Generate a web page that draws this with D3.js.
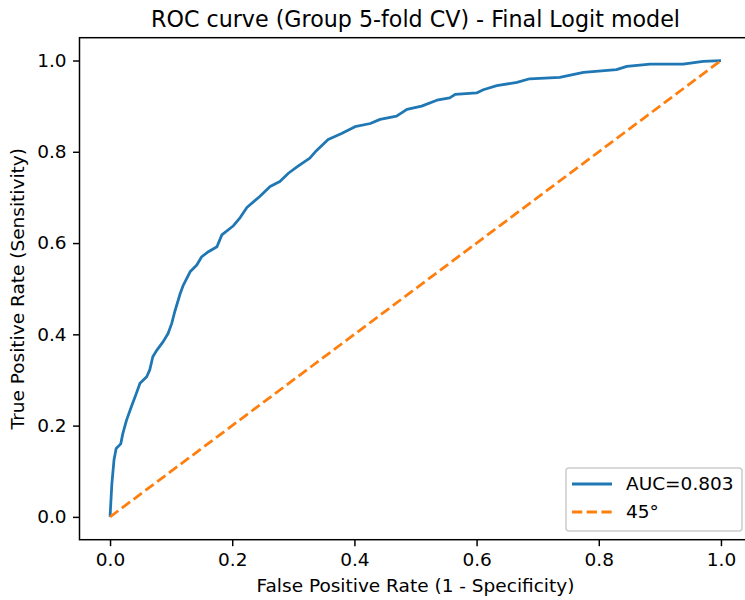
<!DOCTYPE html>
<html>
<head>
<meta charset="utf-8">
<script src="https://cdn.jsdelivr.net/npm/d3@7"></script>
<style>
  body { margin: 0; background: #fff; }
  svg { display: block; font-family: "DejaVu Sans", sans-serif; }
</style>
</head>
<body>
<svg id="chart" width="745" height="600"></svg>
<script>
// ROC curve (false positive rate, true positive rate)
const fpr = [0, 0.003, 0.0065, 0.01, 0.0175, 0.021, 0.027, 0.035, 0.041, 0.049, 0.060, 0.065, 0.070, 0.077, 0.087, 0.095, 0.101, 0.106, 0.115, 0.120, 0.131, 0.142, 0.150, 0.161, 0.175, 0.183, 0.202, 0.213, 0.224, 0.245, 0.262, 0.278, 0.292, 0.306, 0.327, 0.336, 0.357, 0.379, 0.401, 0.426, 0.442, 0.469, 0.486, 0.510, 0.535, 0.556, 0.565, 0.600, 0.611, 0.633, 0.666, 0.687, 0.736, 0.775, 0.829, 0.846, 0.884, 0.938, 0.971, 1.0];
const tpr = [0, 0.073, 0.125, 0.150, 0.160, 0.183, 0.212, 0.242, 0.263, 0.293, 0.307, 0.322, 0.351, 0.366, 0.384, 0.402, 0.424, 0.450, 0.490, 0.508, 0.537, 0.552, 0.570, 0.581, 0.592, 0.618, 0.638, 0.656, 0.678, 0.702, 0.724, 0.735, 0.753, 0.767, 0.786, 0.800, 0.827, 0.840, 0.855, 0.862, 0.871, 0.878, 0.893, 0.900, 0.913, 0.918, 0.926, 0.929, 0.936, 0.945, 0.952, 0.960, 0.963, 0.974, 0.980, 0.987, 0.992, 0.992, 0.998, 1.0];
const diagonal = [0, 1];
const ticks = [0, 0.2, 0.4, 0.6, 0.8, 1.0];
const legendLabels = ['AUC=0.803', '45°'];

const pt = 1.85; // one matplotlib point in px
const margin = { top: 37.7, left: 79.5 };
const width = 672, height = 502;
const blue = '#1f77b4', orange = '#ff7f0e';

const svg = d3.select('#chart');
const x = d3.scaleLinear().domain([-0.05, 1.05]).range([margin.left, margin.left + width]);
const y = d3.scaleLinear().domain([-0.05, 1.05]).range([margin.top + height, margin.top]);

const roc = fpr.map((f, i) => ({ x: f, y: tpr[i] }));
const line = d3.line().x(d => x(d.x)).y(d => y(d.y));

const clip = svg.append('clipPath').attr('id', 'clip')
  .append('rect').attr('x', margin.left).attr('y', margin.top).attr('width', width).attr('height', height);
const plot = svg.append('g').attr('clip-path', 'url(#clip)');

plot.append('path')
  .datum(roc)
  .attr('d', line)
  .attr('fill', 'none')
  .attr('stroke', blue)
  .attr('stroke-width', 1.5 * pt)
  .attr('stroke-linejoin', 'round');

plot.append('path')
  .datum(diagonal.map(v => ({ x: v, y: v })))
  .attr('d', line)
  .attr('fill', 'none')
  .attr('stroke', orange)
  .attr('stroke-width', 1.5 * pt)
  .attr('stroke-dasharray', `${3.7 * 1.5 * pt},${1.6 * 1.5 * pt}`);

// axes
const xAxis = d3.axisBottom(x).tickValues(ticks).tickFormat(d3.format('.1f'))
  .tickSize(3.5 * pt).tickPadding(3.5 * pt);
const yAxis = d3.axisLeft(y).tickValues(ticks).tickFormat(d3.format('.1f'))
  .tickSize(3.5 * pt).tickPadding(3.5 * pt);

const gx = svg.append('g').attr('transform', `translate(0,${margin.top + height})`).call(xAxis);
const gy = svg.append('g').attr('transform', `translate(${margin.left},0)`).call(yAxis);
[gx, gy].forEach(g => {
  g.select('.domain').remove();
  g.selectAll('line').attr('stroke', '#000').attr('stroke-width', 0.8 * pt);
  g.selectAll('text').attr('font-size', 18.5).attr('fill', '#000')
    .attr('font-family', '"DejaVu Sans", sans-serif');
});

svg.append('rect')
  .attr('x', margin.left).attr('y', margin.top)
  .attr('width', width).attr('height', height)
  .attr('fill', 'none').attr('stroke', '#000').attr('stroke-width', 0.8 * pt);

// titles
svg.append('text')
  .attr('x', margin.left + width / 2).attr('y', margin.top - 6 * pt)
  .attr('text-anchor', 'middle').attr('font-size', 22.2)
  .text('ROC curve (Group 5-fold CV) - Final Logit model');

svg.append('text')
  .attr('x', margin.left + width / 2).attr('y', 592)
  .attr('text-anchor', 'middle').attr('font-size', 18.5)
  .text('False Positive Rate (1 - Specificity)');

svg.append('text')
  .attr('transform', `translate(24,${margin.top + height / 2}) rotate(-90)`)
  .attr('text-anchor', 'middle').attr('font-size', 18.5)
  .text('True Positive Rate (Sensitivity)');

// legend
const legend = svg.append('g');
legend.append('rect')
  .attr('x', 566).attr('y', 468).attr('width', 176).attr('height', 63)
  .attr('rx', 3).attr('fill', '#fff').attr('fill-opacity', 0.8)
  .attr('stroke', '#ccc').attr('stroke-width', 1.5);
const rows = legend.selectAll('g.row').data(legendLabels).enter().append('g')
  .attr('class', 'row')
  .attr('transform', (d, i) => `translate(0,${484 + i * 28})`);
rows.append('line')
  .attr('x1', 572).attr('x2', 612)
  .attr('stroke', (d, i) => i === 0 ? blue : orange)
  .attr('stroke-width', 1.5 * pt)
  .attr('stroke-dasharray', (d, i) => i === 0 ? null : `${3.7 * 1.5 * pt},${1.6 * 1.5 * pt}`);
rows.append('text')
  .attr('x', 626).attr('dy', '0.35em').attr('font-size', 18.5)
  .text(d => d);
</script>
</body>
</html>
